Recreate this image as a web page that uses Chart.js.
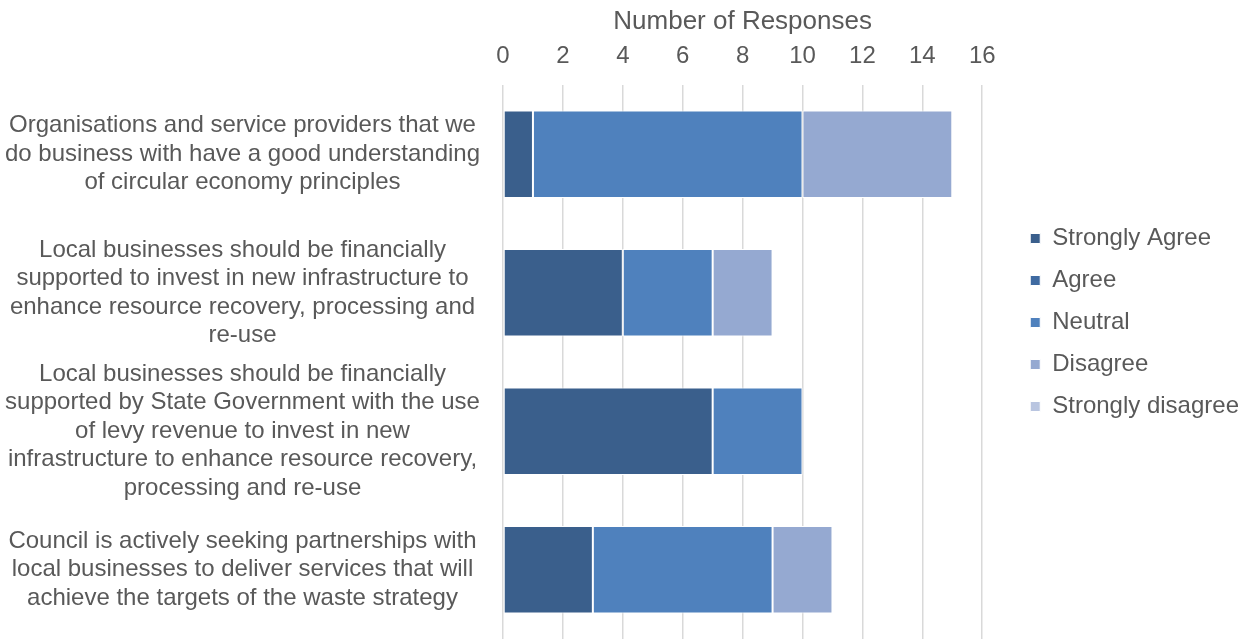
<!DOCTYPE html>
<html>
<head>
<meta charset="utf-8">
<script src="https://cdn.jsdelivr.net/npm/chart.js@4/dist/chart.umd.min.js"></script>
<style>
  html, body { margin: 0; padding: 0; background: #fff; }
  #wrap { width: 1249px; height: 639px; }
</style>
</head>
<body>
<div id="wrap"><canvas id="responses_chart"></canvas></div>
<script>
// Survey statements (wrapped the way they appear on the axis)
const statements = [
	["Organisations and service providers that we", "do business with have a good understanding", "of circular economy principles"],
	["Local businesses should be financially", "supported to invest in new infrastructure to", "enhance resource recovery, processing and", "re-use"],
	["Local businesses should be financially", "supported by State Government with the use", "of levy revenue to invest in new", "infrastructure to enhance resource recovery,", "processing and re-use"],
	["Council is actively seeking partnerships with", "local businesses to deliver services that will", "achieve the targets of the waste strategy"]
];

// Response counts per statement
const strongly_agree = [1, 4, 7, 3];
const agree = [0, 0, 0, 0];
const neutral = [9, 3, 3, 6];
const disagree = [5, 2, 0, 2];
const strongly_disagree = [0, 0, 0, 0];

const x_ticks = [0, 2, 4, 6, 8, 10, 12, 14, 16];

const text_color = '#595959';
const font_family = '"Liberation Sans", Arial, sans-serif';

// extra room between the plot and the legend
const legend_gap = 30;

function series(label, data, color){
	return {
		label: label,
		data: data,
		backgroundColor: color,
		borderColor: '#ffffff',
		borderWidth: 1,
		borderSkipped: false
	};
}

// widen the legend box on its left side so the plot stops short of it
const legendGap = {
	id: 'legendGap',
	afterInit(chart){
		const lg = chart.legend;
		const fit = lg.fit.bind(lg);
		lg.fit = function(){
			fit();
			this.width += legend_gap;
		};
	},
	afterLayout(chart){
		chart.legend.left += legend_gap;
	}
};

const ctx = document.getElementById("responses_chart").getContext("2d");

let my_chart = new Chart(ctx, {
	type: 'bar',
	data: {
		labels: statements,
		datasets: [
			series('Strongly Agree', strongly_agree, '#3a5f8c'),
			series('Agree', agree, '#3f6aa1'),
			series('Neutral', neutral, '#4f81bd'),
			series('Disagree', disagree, '#95a9d1'),
			series('Strongly disagree', strongly_disagree, '#b9c5e0')
		]
	},
	plugins: [legendGap],
	options: {
		indexAxis: 'y',
		responsive: true,
		maintainAspectRatio: false,
		animation: false,
		categoryPercentage: 1,
		barPercentage: 0.633,
		layout: {
			padding: { left: 0, top: 6, right: 0, bottom: 0 }
		},
		scales: {
			x: {
				position: 'top',
				stacked: true,
				min: 0,
				max: 16,
				afterBuildTicks: axis => {
					axis.ticks = x_ticks.map(v => ({ value: v }));
				},
				border: { display: false },
				grid: {
					color: '#d9d9d9',
					lineWidth: 1.5,
					drawTicks: false
				},
				ticks: {
					color: text_color,
					padding: 14,
					font: { family: font_family, size: 24 }
				},
				title: {
					display: true,
					text: 'Number of Responses',
					color: text_color,
					padding: { top: 0, bottom: -9 },
					font: { family: font_family, size: 26 }
				}
			},
			y: {
				stacked: true,
				border: { display: false },
				grid: { display: false, drawTicks: false },
				afterFit: scale => {
					scale.width = 503;
					scale.paddingTop = 0;
					scale.paddingBottom = 0;
				},
				ticks: {
					color: text_color,
					autoSkip: false,
					crossAlign: 'center',
					padding: 23,
					font: { family: font_family, size: 24, lineHeight: 1.19 }
				}
			}
		},
		plugins: {
			legend: {
				position: 'right',
				labels: {
					color: text_color,
					boxWidth: 10,
					boxHeight: 10,
					padding: 18,
					font: { family: font_family, size: 24 }
				}
			},
			tooltip: { enabled: false }
		}
	}
});
</script>
</body>
</html>
